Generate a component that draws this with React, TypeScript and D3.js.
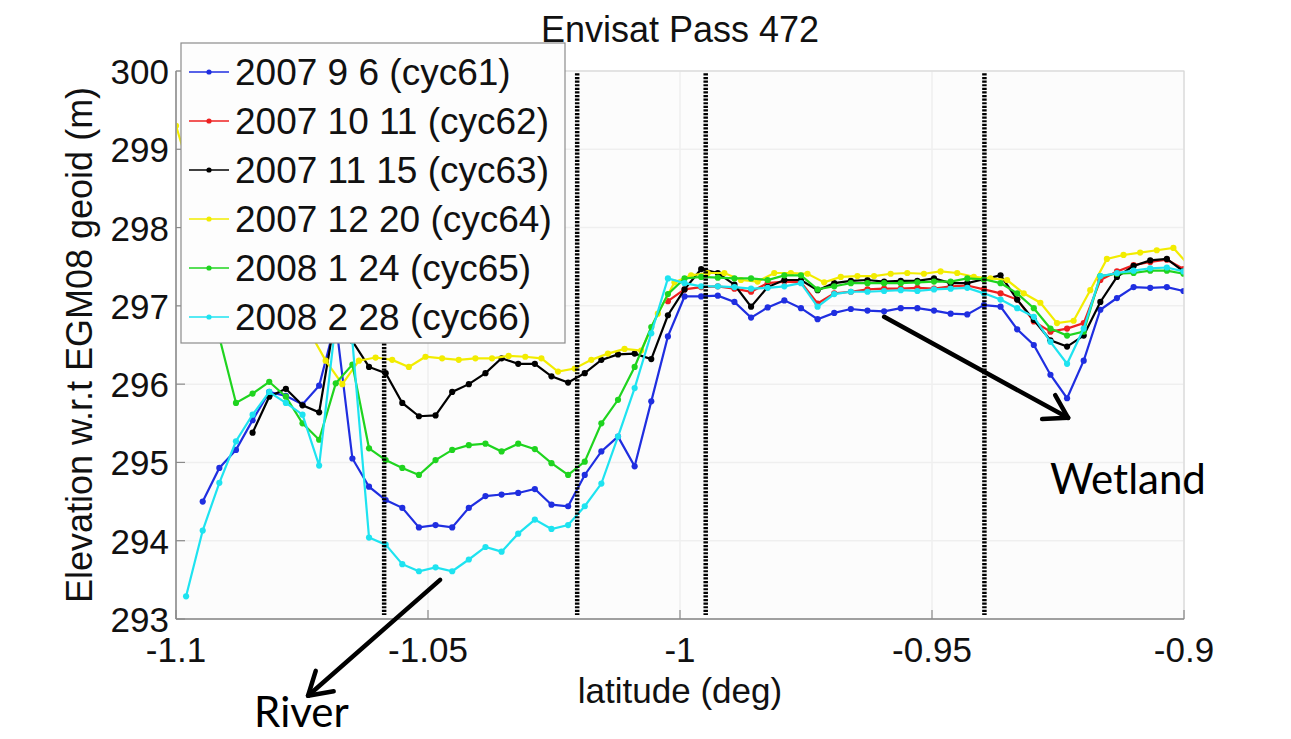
import React from 'react';
import * as d3 from 'd3';

// sample latitudes (deg) of cycles 61,62,63,65,66
const latA = [
  -1.0980, -1.0947, -1.0914, -1.0881, -1.0848, -1.0815, -1.0782, -1.0749, -1.0716, -1.0683,
  -1.0650, -1.0617, -1.0584, -1.0551, -1.0518, -1.0485, -1.0452, -1.0419, -1.0386, -1.0354,
  -1.0321, -1.0288, -1.0255, -1.0222, -1.0189, -1.0156, -1.0123, -1.0090, -1.0057, -1.0024,
  -0.9991, -0.9958, -0.9925, -0.9892, -0.9859, -0.9826, -0.9793, -0.9760, -0.9727, -0.9694,
  -0.9661, -0.9628, -0.9595, -0.9562, -0.9529, -0.9496, -0.9463, -0.9430, -0.9397, -0.9364,
  -0.9331, -0.9298, -0.9265, -0.9232, -0.9199, -0.9166, -0.9133, -0.9100, -0.9067, -0.9034,
  -0.9001,
];
// sample latitudes (deg) of cycle 64
const latY = [
  -1.1000, -1.0967, -1.0934, -1.0901, -1.0868, -1.0835, -1.0802, -1.0769, -1.0736, -1.0703,
  -1.0670, -1.0637, -1.0604, -1.0571, -1.0538, -1.0505, -1.0472, -1.0439, -1.0406, -1.0373,
  -1.0340, -1.0307, -1.0275, -1.0242, -1.0209, -1.0176, -1.0143, -1.0110, -1.0077, -1.0044,
  -1.0011, -0.9978, -0.9945, -0.9912, -0.9879, -0.9846, -0.9813, -0.9780, -0.9747, -0.9714,
  -0.9681, -0.9648, -0.9615, -0.9582, -0.9549, -0.9516, -0.9483, -0.9450, -0.9417, -0.9384,
  -0.9351, -0.9318, -0.9285, -0.9252, -0.9219, -0.9186, -0.9153, -0.9120, -0.9087, -0.9054,
  -0.9021, -0.8988,
];

const cyc61 = [
  null, 294.50, 294.93, 295.16, 295.54, 295.90, 295.85, 295.74, 295.98, 296.80,
  295.05, 294.69, 294.52, 294.42, 294.17, 294.20, 294.17, 294.42, 294.57, 294.59,
  294.61, 294.66, 294.46, 294.44, 294.84, 295.14, 295.33, 294.95, 295.78, 296.61,
  297.12, 297.12, 297.13, 297.05, 296.85, 296.98, 297.07, 296.97, 296.83, 296.91,
  296.96, 296.94, 296.93, 296.97, 296.97, 296.94, 296.90, 296.89, 297.01, 296.99,
  296.70, 296.50, 296.12, 295.82, 296.30, 296.95, 297.10, 297.24, 297.23, 297.24,
  297.19,
];
const cyc62 = [
  null, null, null, null, null, null, null, null, null, null,
  null, null, null, null, null, null, null, null, null, null,
  null, null, null, null, null, null, null, null, null, 297.06,
  297.21, 297.24, 297.25, 297.22, 297.18, 297.29, 297.31, 297.30, 297.03, 297.16,
  297.18, 297.21, 297.22, 297.22, 297.23, 297.22, 297.25, 297.26, 297.21, 297.16,
  297.08, 296.80, 296.67, 296.71, 296.78, 297.33, 297.44, 297.52, 297.56, 297.59,
  297.47,
];
const cyc63 = [
  null, null, null, null, 295.38, 295.84, 295.94, 295.73, 295.64, 296.90,
  296.55, 296.22, 296.14, 295.76, 295.59, 295.60, 295.90, 296.00, 296.14, 296.33,
  296.26, 296.26, 296.10, 296.02, 296.14, 296.31, 296.38, 296.39, 296.32, 296.88,
  297.21, 297.47, 297.42, 297.27, 296.99, 297.24, 297.33, 297.33, 297.20, 297.29,
  297.32, 297.33, 297.31, 297.32, 297.32, 297.35, 297.29, 297.29, 297.34, 297.39,
  297.08, 296.82, 296.56, 296.48, 296.62, 297.05, 297.37, 297.51, 297.58, 297.60,
  297.44,
];
const cyc64 = [
  299.30, 298.60, 298.05, 297.65, 297.35, 297.15, 297.00, 296.85, 296.68, 296.30,
  296.00, 296.30, 296.34, 296.31, 296.22, 296.35, 296.33, 296.31, 296.33, 296.33,
  296.36, 296.35, 296.33, 296.16, 296.20, 296.31, 296.39, 296.45, 296.43, 296.90,
  297.30, 297.39, 297.42, 297.42, 297.33, 297.31, 297.42, 297.42, 297.41, 297.30,
  297.37, 297.38, 297.38, 297.41, 297.42, 297.41, 297.44, 297.42, 297.37, 297.35,
  297.33, 297.16, 297.04, 296.78, 296.81, 297.20, 297.60, 297.65, 297.68, 297.71,
  297.74, 297.50,
];
const cyc65 = [
  297.25, 296.95, 296.60, 295.76, 295.88, 296.03, 295.84, 295.50, 295.29, 296.01,
  296.25, 295.18, 295.03, 294.93, 294.84, 295.03, 295.16, 295.22, 295.24, 295.14,
  295.24, 295.17, 294.99, 294.84, 295.01, 295.50, 295.80, 296.22, 296.73, 297.15,
  297.35, 297.37, 297.36, 297.35, 297.35, 297.33, 297.39, 297.39, 297.21, 297.25,
  297.29, 297.29, 297.29, 297.29, 297.30, 297.31, 297.31, 297.35, 297.34, 297.29,
  297.16, 296.97, 296.71, 296.62, 296.67, 297.38, 297.41, 297.42, 297.45, 297.45,
  297.41,
];
const cyc66 = [
  293.29, 294.13, 294.74, 295.27, 295.61, 295.90, 295.76, 295.61, 294.96, 296.80,
  296.55, 294.04, 293.95, 293.70, 293.61, 293.66, 293.61, 293.76, 293.92, 293.86,
  294.09, 294.27, 294.15, 294.20, 294.44, 294.73, 295.33, 295.95, 296.65, 297.35,
  297.29, 297.25, 297.25, 297.24, 297.22, 297.23, 297.25, 297.29, 296.99, 297.15,
  297.18, 297.18, 297.19, 297.20, 297.19, 297.21, 297.22, 297.23, 297.16, 297.08,
  296.97, 296.86, 296.54, 296.26, 296.71, 297.38, 297.42, 297.45, 297.48, 297.49,
  297.44,
];

const seriesNames = [
  '2007 9 6 (cyc61)',
  '2007 10 11 (cyc62)',
  '2007 11 15 (cyc63)',
  '2007 12 20 (cyc64)',
  '2008 1 24 (cyc65)',
  '2008 2 28 (cyc66)',
];
const seriesColors = ['#1f2ee0', '#ee2020', '#000000', '#f2ec00', '#1fd41f', '#1ee3f0'];
const seriesLats = [latA, latA, latA, latY, latA, latA];
const seriesValues = [cyc61, cyc62, cyc63, cyc64, cyc65, cyc66];

const xTicks = [-1.1, -1.05, -1, -0.95, -0.9];
const xTickLabels = ['-1.1', '-1.05', '-1', '-0.95', '-0.9'];
const yTicks = [293, 294, 295, 296, 297, 298, 299, 300];
const markerLats = [-1.0587, -1.0204, -0.9949, -0.9396];

// annotation arrows in data coordinates: [lat0, elev0, lat1, elev1]
const riverArrow = [-1.0476, 293.5, -1.0738, 292.02];
const wetlandArrow = [-0.9595, 296.86, -0.923, 295.57];
const riverLabel = [-1.0845, 291.62];
const wetlandLabel = [-0.9266, 294.6];

const FONT = "'Liberation Sans', Arial, Helvetica, sans-serif";
const NOTE_FONT = "Lato, 'Open Sans', sans-serif";

function Arrow({ x0, y0, x1, y1 }: { x0: number; y0: number; x1: number; y1: number }) {
  const ang = Math.atan2(y1 - y0, x1 - x0);
  const L = 26;
  const spread = 0.55;
  const a1 = ang + Math.PI - spread;
  const a2 = ang + Math.PI + spread;
  return (
    <g stroke="#000" strokeWidth={4.5} strokeLinecap="round" fill="none">
      <line x1={x0} y1={y0} x2={x1} y2={y1} />
      <line x1={x1} y1={y1} x2={x1 + L * Math.cos(a1)} y2={y1 + L * Math.sin(a1)} />
      <line x1={x1} y1={y1} x2={x1 + L * Math.cos(a2)} y2={y1 + L * Math.sin(a2)} />
    </g>
  );
}

export default function App() {
  const W = 1291;
  const H = 739;
  const left = 176, right = 1184, top = 71, bottom = 619;
  const x = d3.scaleLinear().domain([-1.1, -0.9]).range([left, right]);
  const y = d3.scaleLinear().domain([293, 300]).range([bottom, top]);

  const line = d3
    .line<[number, number | null]>()
    .defined((d) => d[1] != null)
    .x((d) => x(d[0]))
    .y((d) => y(d[1] as number));

  const legendX = 181, legendY = 43, legendW = 384, legendH = 300;
  const rowH = 49;

  return (
    <svg
      width={W}
      height={H}
      style={{ position: 'absolute', left: 0, top: 0, background: '#fff' }}
      fontFamily={FONT}
    >
      <defs>
        <clipPath id="plotClip">
          <rect x={left} y={top} width={right - left} height={bottom - top} />
        </clipPath>
      </defs>
      <rect x={0} y={0} width={W} height={H} fill="#fff" />
      <rect x={left} y={top} width={right - left} height={bottom - top} fill="#fcfcfc" />
      {/* grid */}
      {yTicks.map((t) => (
        <line key={'gy' + t} x1={left} x2={right} y1={y(t)} y2={y(t)} stroke="#efefef" strokeWidth={1.5} />
      ))}
      {xTicks.map((t) => (
        <line key={'gx' + t} x1={x(t)} x2={x(t)} y1={top} y2={bottom} stroke="#efefef" strokeWidth={1.5} />
      ))}
      {/* series */}
      <g clipPath="url(#plotClip)">
        {seriesValues.map((vals, si) => {
          const pts: [number, number | null][] = vals.map((v, i) => [seriesLats[si][i], v]);
          return (
            <g key={'s' + si}>
              <path d={line(pts) || ''} fill="none" stroke={seriesColors[si]} strokeWidth={2.2} />
              {pts
                .filter((p) => p[1] != null)
                .map((p, i) => (
                  <circle key={i} cx={x(p[0])} cy={y(p[1] as number)} r={3.1} fill={seriesColors[si]} />
                ))}
            </g>
          );
        })}
        {/* dotted vertical markers */}
        {markerLats.map((m) => (
          <line
            key={'m' + m}
            x1={x(m)}
            x2={x(m)}
            y1={y(299.97)}
            y2={y(293.05)}
            stroke="#000"
            strokeWidth={4.5}
            strokeDasharray="2.2,1.4"
          />
        ))}
      </g>
      {/* axes box */}
      <rect x={left} y={top} width={right - left} height={bottom - top} fill="none" stroke="#d4d4d4" strokeWidth={1} />
      <line x1={left} x2={right} y1={bottom} y2={bottom} stroke="#8a8a8a" strokeWidth={1.5} />
      <line x1={left} x2={left} y1={top} y2={bottom} stroke="#8a8a8a" strokeWidth={1.5} />
      {xTicks.map((t, i) => (
        <g key={'xt' + t}>
          <line x1={x(t)} x2={x(t)} y1={bottom} y2={bottom - 9} stroke="#8a8a8a" strokeWidth={1.2} />
          <text x={x(t)} y={662} fontSize={35} textAnchor="middle" fill="#111">
            {xTickLabels[i]}
          </text>
        </g>
      ))}
      {yTicks.map((t) => (
        <g key={'yt' + t}>
          <line x1={left} x2={left + 9} y1={y(t)} y2={y(t)} stroke="#8a8a8a" strokeWidth={1.2} />
          <text x={169} y={y(t) + 13} fontSize={35} textAnchor="end" fill="#111">
            {t}
          </text>
        </g>
      ))}
      {/* title and axis labels */}
      <text x={(left + right) / 2} y={42} fontSize={36} textAnchor="middle" fill="#111">
        Envisat Pass 472
      </text>
      <text x={(left + right) / 2} y={703} fontSize={35} textAnchor="middle" fill="#111">
        latitude (deg)
      </text>
      <text
        transform={`translate(92, ${(top + bottom) / 2}) rotate(-90)`}
        fontSize={36}
        textAnchor="middle"
        fill="#111"
      >
        Elevation w.r.t EGM08 geoid (m)
      </text>
      {/* legend */}
      <rect x={legendX} y={legendY} width={legendW} height={legendH} fill="#fdfdfd" stroke="#8c8c8c" strokeWidth={1.2} />
      {seriesNames.map((name, i) => {
        const cy = legendY + 29 + i * rowH;
        return (
          <g key={'lg' + i}>
            <line x1={legendX + 8} x2={legendX + 48} y1={cy} y2={cy} stroke={seriesColors[i]} strokeWidth={1.6} />
            <circle cx={legendX + 28} cy={cy} r={2.6} fill={seriesColors[i]} />
            <text x={legendX + 54} y={cy + 13} fontSize={37} fill="#111">
              {name}
            </text>
          </g>
        );
      })}
      {/* annotations */}
      <Arrow x0={x(riverArrow[0])} y0={y(riverArrow[1])} x1={x(riverArrow[2])} y1={y(riverArrow[3])} />
      <Arrow x0={x(wetlandArrow[0])} y0={y(wetlandArrow[1])} x1={x(wetlandArrow[2])} y1={y(wetlandArrow[3])} />
      <text x={x(riverLabel[0])} y={y(riverLabel[1])} fontSize={42} fontFamily={NOTE_FONT} fill="#000">
        River
      </text>
      <text x={x(wetlandLabel[0])} y={y(wetlandLabel[1])} fontSize={42} fontFamily={NOTE_FONT} fill="#000">
        Wetland
      </text>
    </svg>
  );
}
